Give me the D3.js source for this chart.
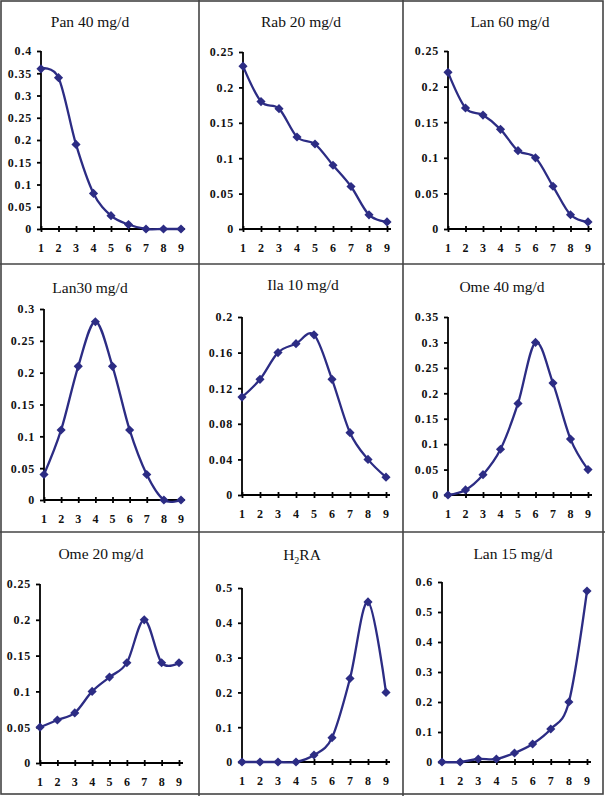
<!DOCTYPE html>
<html>
<head>
<meta charset="utf-8">
<script src="https://cdn.jsdelivr.net/npm/d3@7"></script>
<style>
  body { margin: 0; background: #fff; }
  svg { display: block; }
</style>
</head>
<body>
<div id="viz"></div>
<script>
// 3x3 grid of small smoothed line charts, x = 1..9

const xValues = [1, 2, 3, 4, 5, 6, 7, 8, 9];

const titles = ['Pan 40 mg/d', 'Rab 20 mg/d', 'Lan 60 mg/d',
                'Lan30 mg/d', 'Ila 10 mg/d', 'Ome 40 mg/d',
                'Ome 20 mg/d', 'H2RA', 'Lan 15 mg/d'];

const pan40 = [0.36, 0.34, 0.19, 0.08, 0.03, 0.01, 0, 0, 0];
const rab20 = [0.23, 0.18, 0.17, 0.13, 0.12, 0.09, 0.06, 0.02, 0.01];
const lan60 = [0.22, 0.17, 0.16, 0.14, 0.11, 0.10, 0.06, 0.02, 0.01];
const lan30 = [0.04, 0.11, 0.21, 0.28, 0.21, 0.11, 0.04, 0, 0];
const ila10 = [0.11, 0.13, 0.16, 0.17, 0.18, 0.13, 0.07, 0.04, 0.02];
const ome40 = [0, 0.01, 0.04, 0.09, 0.18, 0.30, 0.22, 0.11, 0.05];
const ome20 = [0.05, 0.06, 0.07, 0.10, 0.12, 0.14, 0.20, 0.14, 0.14];
const h2ra  = [0, 0, 0, 0, 0.02, 0.07, 0.24, 0.46, 0.20];
const lan15 = [0, 0, 0.01, 0.01, 0.03, 0.06, 0.11, 0.20, 0.57];

const series = [pan40, rab20, lan60, lan30, ila10, ome40, ome20, h2ra, lan15];

// y axis tick values per panel
const yTicks = [
    [0, 0.05, 0.1, 0.15, 0.2, 0.25, 0.3, 0.35, 0.4],
    [0, 0.05, 0.1, 0.15, 0.2, 0.25],
    [0, 0.05, 0.1, 0.15, 0.2, 0.25],
    [0, 0.05, 0.1, 0.15, 0.2, 0.25, 0.3],
    [0, 0.04, 0.08, 0.12, 0.16, 0.2],
    [0, 0.05, 0.1, 0.15, 0.2, 0.25, 0.3, 0.35],
    [0, 0.05, 0.1, 0.15, 0.2, 0.25],
    [0, 0.1, 0.2, 0.3, 0.4, 0.5],
    [0, 0.1, 0.2, 0.3, 0.4, 0.5, 0.6]
];

// plot boxes: left, right, bottom, top (pixels) and title centre
const layout = [
    {l: 41,  r: 181, b: 229, t: 51,  tx: 90,  ty: 27},
    {l: 243, r: 387, b: 229, t: 52,  tx: 301, ty: 27},
    {l: 448, r: 588, b: 229, t: 51,  tx: 510, ty: 27},
    {l: 44,  r: 181, b: 500, t: 309, tx: 90,  ty: 293},
    {l: 242, r: 386, b: 495, t: 317, tx: 303, ty: 290},
    {l: 448, r: 588, b: 495, t: 317, tx: 502, ty: 292},
    {l: 40,  r: 179, b: 763, t: 584, tx: 101, ty: 559},
    {l: 242, r: 386, b: 762, t: 588, tx: 302, ty: 560},
    {l: 442, r: 587, b: 762, t: 582, tx: 513, ty: 559}
];

const lineColor = '#2c2c84';
const width = 605, height = 796;

const svg = d3.select('#viz').append('svg')
    .attr('width', width)
    .attr('height', height);

// panel frame
const frame = svg.append('g')
    .attr('fill', 'none')
    .attr('stroke', '#444')
    .attr('stroke-width', 1.6);
frame.append('rect').attr('x', 1).attr('y', 1).attr('width', 602).attr('height', 793);
[199, 403].forEach(x => frame.append('line').attr('x1', x).attr('x2', x).attr('y1', 0).attr('y2', 796));
[264, 532].forEach(y => frame.append('line').attr('x1', 0).attr('x2', 605).attr('y1', y).attr('y2', y));

// square turned 45 degrees, like the spreadsheet marker
const diamond = d3.symbol().type(d3.symbolSquare).size(42);

series.forEach((values, i) => {
    const box = layout[i];
    const ticks = yTicks[i];
    const g = svg.append('g');

    const xScale = d3.scaleLinear()
        .domain([1, 9])
        .range([box.l, box.r]);

    const yScale = d3.scaleLinear()
        .domain([0, ticks[ticks.length - 1]])
        .range([box.b, box.t]);

    // title
    const title = g.append('text')
        .attr('x', box.tx)
        .attr('y', box.ty)
        .attr('text-anchor', 'middle')
        .style('font-family', '"Liberation Serif", "Times New Roman", serif')
        .style('font-size', '15.5px')
        .attr('fill', '#111');
    if (titles[i] === 'H2RA') {
        title.append('tspan').text('H');
        title.append('tspan').text('2').attr('dy', 4).style('font-size', '10px');
        title.append('tspan').text('RA').attr('dy', -4);
    } else {
        title.text(titles[i]);
    }

    // y axis
    const yAxis = d3.axisLeft(yScale)
        .tickValues(ticks)
        .tickSize(4)
        .tickPadding(5)
        .tickFormat(d => d3.format('')(+d.toFixed(2)));

    const yG = g.append('g')
        .attr('transform', `translate(${box.l},0)`)
        .call(yAxis);

    // x axis
    const xAxis = d3.axisBottom(xScale)
        .tickValues(xValues)
        .tickSize(3)
        .tickPadding(11)
        .tickFormat(d3.format('d'));

    const xG = g.append('g')
        .attr('transform', `translate(0,${box.b})`)
        .call(xAxis);

    xG.selectAll('.tick line').attr('y1', -3);
    xG.select('.domain').attr('d', `M${box.l},0H${box.r + 4}`);
    yG.select('.domain').attr('d', `M0,${box.b}V${box.t}`);

    [xG, yG].forEach(a => {
        a.selectAll('.domain, .tick line')
            .attr('stroke', '#000')
            .attr('stroke-width', 1.8);
        a.selectAll('text')
            .style('font-family', '"Liberation Serif", "Times New Roman", serif')
            .style('font-size', '12px')
            .style('font-weight', 'bold')
            .style('letter-spacing', '0.8px')
            .attr('fill', '#111');
    });

    // smoothed line
    const line = d3.line()
        .x((d, j) => xScale(xValues[j]))
        .y(d => yScale(d))
        .curve(d3.curveCardinal.tension(0));

    g.append('path')
        .datum(values)
        .attr('fill', 'none')
        .attr('stroke', lineColor)
        .attr('stroke-width', 2.3)
        .attr('d', line);

    g.selectAll('.marker')
        .data(values)
        .join('path')
        .attr('class', 'marker')
        .attr('transform', (d, j) => `translate(${xScale(xValues[j])},${yScale(d)}) rotate(45)`)
        .attr('d', diamond)
        .attr('fill', lineColor);
});
</script>
</body>
</html>
